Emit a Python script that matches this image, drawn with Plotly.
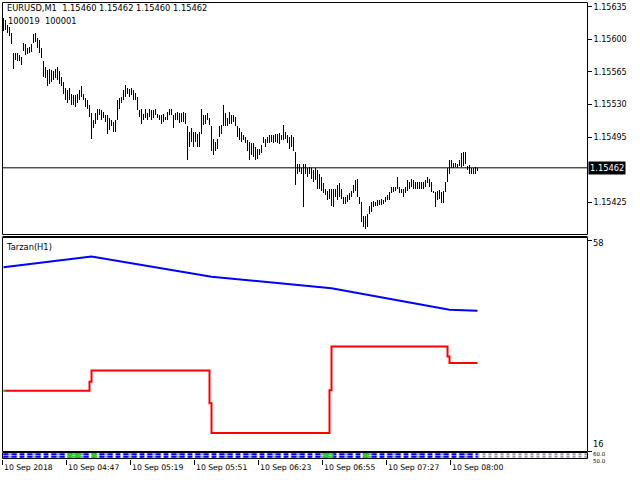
import plotly.graph_objects as go

# ---------------- data ----------------
symbol_title = "EURUSD,M1\u00a0\u00a01.15460 1.15462 1.15460 1.15462"
info_line = "100019\u00a0\u00a0100001"
indicator_name = "Tarzan(H1)"

time_labels = ["10 Sep 2018", "10 Sep 04:47", "10 Sep 05:19", "10 Sep 05:51",
               "10 Sep 06:23", "10 Sep 06:55", "10 Sep 07:27", "10 Sep 08:00"]

highs = [
    1.15623, 1.15621, 1.15616, 1.15614, 1.15607, 1.15586, 1.15586, 1.15586, 1.15584, 1.15581,
    1.15597, 1.15595, 1.15591, 1.15592, 1.15596, 1.15606, 1.15607, 1.15602, 1.15600, 1.15591,
    1.15577, 1.15571, 1.15568, 1.15569, 1.15568, 1.15566, 1.15569, 1.15571, 1.15566, 1.15560,
    1.15555, 1.15548, 1.15546, 1.15548, 1.15542, 1.15541, 1.15541, 1.15542, 1.15546, 1.15550,
    1.15542, 1.15537, 1.15535, 1.15530, 1.15521, 1.15514, 1.15521, 1.15526, 1.15526, 1.15525,
    1.15523, 1.15519, 1.15519, 1.15516, 1.15514, 1.15512, 1.15514, 1.15535, 1.15537, 1.15539,
    1.15546, 1.15551, 1.15548, 1.15547, 1.15548, 1.15546, 1.15543, 1.15539, 1.15525, 1.15526,
    1.15520, 1.15526, 1.15521, 1.15526, 1.15525, 1.15525, 1.15526, 1.15520, 1.15519, 1.15519,
    1.15520, 1.15517, 1.15522, 1.15526, 1.15526, 1.15519, 1.15521, 1.15522, 1.15521, 1.15521,
    1.15523, 1.15521, 1.15507, 1.15501, 1.15505, 1.15501, 1.15501, 1.15499, 1.15501, 1.15526,
    1.15519, 1.15519, 1.15521, 1.15516, 1.15507, 1.15494, 1.15490, 1.15494, 1.15507, 1.15508,
    1.15530, 1.15521, 1.15516, 1.15523, 1.15519, 1.15519, 1.15517, 1.15507, 1.15505, 1.15501,
    1.15498, 1.15496, 1.15492, 1.15490, 1.15489, 1.15489, 1.15485, 1.15483, 1.15483, 1.15487,
    1.15496, 1.15493, 1.15496, 1.15498, 1.15498, 1.15498, 1.15499, 1.15499, 1.15500, 1.15498,
    1.15508, 1.15501, 1.15498, 1.15496, 1.15498, 1.15496, 1.15480, 1.15467, 1.15467, 1.15462,
    1.15467, 1.15467, 1.15462, 1.15463, 1.15462, 1.15460, 1.15462, 1.15460, 1.15456, 1.15453,
    1.15446, 1.15440, 1.15438, 1.15440, 1.15440, 1.15440, 1.15440, 1.15444, 1.15446, 1.15440,
    1.15431, 1.15431, 1.15433, 1.15435, 1.15438, 1.15444, 1.15449, 1.15451, 1.15431, 1.15426,
    1.15411, 1.15411, 1.15413, 1.15422, 1.15426, 1.15427, 1.15426, 1.15428, 1.15428, 1.15429,
    1.15428, 1.15431, 1.15433, 1.15437, 1.15442, 1.15442, 1.15442, 1.15453, 1.15442, 1.15440,
    1.15440, 1.15442, 1.15449, 1.15447, 1.15451, 1.15449, 1.15447, 1.15447, 1.15447, 1.15447,
    1.15447, 1.15449, 1.15453, 1.15451, 1.15447, 1.15438, 1.15437, 1.15438, 1.15439, 1.15437,
    1.15438, 1.15447, 1.15462, 1.15471, 1.15471, 1.15468, 1.15468, 1.15467, 1.15471, 1.15478,
    1.15480, 1.15479, 1.15465, 1.15466, 1.15462, 1.15462, 1.15463, 1.15462,
]

lows = [
    1.15609, 1.15611, 1.15607, 1.15604, 1.15595, 1.15569, 1.15578, 1.15577, 1.15577, 1.15573,
    1.15588, 1.15584, 1.15585, 1.15586, 1.15587, 1.15597, 1.15598, 1.15591, 1.15586, 1.15580,
    1.15560, 1.15559, 1.15550, 1.15553, 1.15555, 1.15557, 1.15559, 1.15557, 1.15553, 1.15550,
    1.15542, 1.15535, 1.15532, 1.15535, 1.15530, 1.15530, 1.15528, 1.15532, 1.15535, 1.15539,
    1.15535, 1.15528, 1.15526, 1.15517, 1.15494, 1.15505, 1.15510, 1.15514, 1.15519, 1.15514,
    1.15516, 1.15512, 1.15499, 1.15503, 1.15507, 1.15501, 1.15501, 1.15514, 1.15526, 1.15532,
    1.15535, 1.15539, 1.15542, 1.15539, 1.15541, 1.15535, 1.15535, 1.15525, 1.15517, 1.15510,
    1.15514, 1.15516, 1.15514, 1.15517, 1.15514, 1.15516, 1.15519, 1.15516, 1.15514, 1.15510,
    1.15512, 1.15514, 1.15514, 1.15519, 1.15519, 1.15505, 1.15514, 1.15514, 1.15511, 1.15512,
    1.15512, 1.15510, 1.15471, 1.15485, 1.15490, 1.15485, 1.15490, 1.15485, 1.15485, 1.15499,
    1.15508, 1.15510, 1.15514, 1.15508, 1.15481, 1.15476, 1.15481, 1.15483, 1.15496, 1.15499,
    1.15507, 1.15507, 1.15507, 1.15510, 1.15510, 1.15512, 1.15507, 1.15496, 1.15492, 1.15490,
    1.15492, 1.15489, 1.15481, 1.15471, 1.15476, 1.15474, 1.15471, 1.15472, 1.15476, 1.15478,
    1.15489, 1.15485, 1.15489, 1.15489, 1.15490, 1.15489, 1.15490, 1.15489, 1.15488, 1.15492,
    1.15492, 1.15494, 1.15489, 1.15483, 1.15485, 1.15481, 1.15444, 1.15456, 1.15458, 1.15456,
    1.15420, 1.15456, 1.15453, 1.15456, 1.15451, 1.15447, 1.15449, 1.15440, 1.15440, 1.15438,
    1.15435, 1.15433, 1.15428, 1.15429, 1.15422, 1.15420, 1.15431, 1.15428, 1.15431, 1.15429,
    1.15424, 1.15424, 1.15426, 1.15428, 1.15431, 1.15435, 1.15438, 1.15431, 1.15424, 1.15404,
    1.15399, 1.15397, 1.15399, 1.15413, 1.15415, 1.15420, 1.15422, 1.15422, 1.15423, 1.15423,
    1.15424, 1.15426, 1.15428, 1.15428, 1.15435, 1.15437, 1.15438, 1.15440, 1.15435, 1.15435,
    1.15431, 1.15435, 1.15438, 1.15440, 1.15442, 1.15440, 1.15440, 1.15440, 1.15440, 1.15440,
    1.15440, 1.15442, 1.15446, 1.15442, 1.15437, 1.15435, 1.15420, 1.15428, 1.15429, 1.15425,
    1.15425, 1.15437, 1.15447, 1.15456, 1.15462, 1.15462, 1.15463, 1.15462, 1.15465, 1.15463,
    1.15465, 1.15467, 1.15460, 1.15456, 1.15456, 1.15456, 1.15456, 1.15460,
]

price_ticks = [1.15635, 1.15600, 1.15565, 1.15530, 1.15495, 1.15425]
last_price = 1.15462

ind_max, ind_min = 58, 16
blue_x = [0, 44, 104, 164, 223, 237]
blue_y = [52.6, 54.7, 50.7, 48.4, 44.1, 43.9]
red_x = [0, 43, 44, 103, 104, 163, 164, 222, 223, 237]
red_y = [28.0, 29.8, 32.0, 25.5, 19.6, 28.1, 36.8, 34.8, 33.5, 33.5]
green_start_x = [0, 1]

strip_green_ranges = [(32, 39), (44, 47), (160, 165), (180, 183)]
strip_labels = ["60.0", "50.0"]

# ---------------- layout helpers ----------------
W, H = 640, 480
def px(v):
    return v / W
def py(v):
    return 1 - v / H

FONT = "DejaVu Sans"
idx = list(range(len(highs)))

fig = go.Figure()

# price bars (high-low)
fig.add_trace(go.Bar(
    x=idx, y=[h - l for h, l in zip(highs, lows)], base=lows,
    width=0.4, marker=dict(color="black", line=dict(width=0)),
    xaxis="x", yaxis="y", hoverinfo="skip"))

# indicator lines
fig.add_trace(go.Scatter(x=blue_x, y=blue_y, mode="lines",
                         line=dict(color="#0000ff", width=2), xaxis="x", yaxis="y2"))
fig.add_trace(go.Scatter(x=red_x, y=red_y, mode="lines",
                         line=dict(color="#ff0000", width=2, shape="hv"), xaxis="x", yaxis="y2"))
fig.add_trace(go.Scatter(x=green_start_x, y=[red_y[0]] * 2, mode="lines",
                         line=dict(color="#33cc33", width=2), xaxis="x", yaxis="y2"))

# thin strip sub-window
n = len(highs)
for lvl in (72, 28):
    fig.add_trace(go.Scatter(x=[0, n - 1], y=[lvl, lvl], mode="lines",
                             line=dict(color="#0000ff", width=2, dash="5px,3px"),
                             xaxis="x", yaxis="y3"))
gx, gy = [], []
for a, b in strip_green_ranges:
    gx += [a, b, None]
    gy += [72, 72, None]
    gx += [a, b, None]
    gy += [28, 28, None]
fig.add_trace(go.Scatter(x=gx, y=gy, mode="lines", line=dict(color="#33cc33", width=2),
                         xaxis="x", yaxis="y3"))

shapes = []
# strip grey dashed background rows
for lvl in (72, 28):
    shapes.append(dict(type="line", xref="paper", yref="y3", x0=px(2.5), x1=px(587.5),
                       y0=lvl, y1=lvl, line=dict(color="#9a9aaa", width=2, dash="3px,3px"),
                       layer="below"))
# panel frames
for top, bot in ((2.5, 234.5), (237.5, 451.5), (452.5, 458.5)):
    shapes.append(dict(type="rect", xref="paper", yref="paper", x0=px(2.5), x1=px(587.5),
                       y0=py(bot), y1=py(top), line=dict(color="black", width=1)))
shapes.append(dict(type="line", xref="paper", yref="paper", x0=px(2.5), x1=px(587.5),
                   y0=py(236.5), y1=py(236.5), line=dict(color="black", width=1)))
# last price line
shapes.append(dict(type="line", xref="paper", yref="y", x0=px(2.5), x1=px(587.5),
                   y0=last_price, y1=last_price, line=dict(color="black", width=1)))

annotations = [
    dict(text=symbol_title, xref="paper", yref="paper", x=px(5), y=py(8),
         xanchor="left", yanchor="middle", showarrow=False, font=dict(size=8.3)),
    dict(text=info_line, xref="paper", yref="paper", x=px(6), y=py(21),
         xanchor="left", yanchor="middle", showarrow=False, font=dict(size=8.3)),
    dict(text=indicator_name, xref="paper", yref="paper", x=px(4), y=py(247),
         xanchor="left", yanchor="middle", showarrow=False, font=dict(size=8.3)),
    dict(text=f"{last_price:.5f}", xref="paper", yref="y", x=px(588), y=last_price,
         xanchor="left", yanchor="middle", showarrow=False, bgcolor="black",
         font=dict(size=8.3, color="white"), borderpad=1),
    dict(text=str(ind_max), xref="paper", yref="y2", x=px(591), y=ind_max,
         xanchor="left", yanchor="middle", showarrow=False, font=dict(size=8.3), yshift=-3),
    dict(text=str(ind_min), xref="paper", yref="y2", x=px(591), y=ind_min,
         xanchor="left", yanchor="middle", showarrow=False, font=dict(size=8.3), yshift=7),
    dict(text=strip_labels[0], xref="paper", yref="paper", x=px(591), y=py(454),
         xanchor="left", yanchor="middle", showarrow=False, font=dict(size=5.5)),
    dict(text=strip_labels[1], xref="paper", yref="paper", x=px(591), y=py(460.5),
         xanchor="left", yanchor="middle", showarrow=False, font=dict(size=5.5)),
]
tick_pos = [32 * k - 0.5 for k in range(len(time_labels))]
for pos, lab in zip(tick_pos, time_labels):
    annotations.append(dict(text=lab, xref="x", yref="paper", x=pos, y=py(467),
                            xanchor="left", yanchor="middle", showarrow=False,
                            font=dict(size=7.7), xshift=-1))

fig.update_layout(
    width=W, height=H, margin=dict(l=0, r=0, t=0, b=0, pad=0),
    paper_bgcolor="white", plot_bgcolor="white",
    font=dict(family=FONT, size=8.3, color="black"),
    showlegend=False, hovermode=False, bargap=0,
    xaxis=dict(domain=[px(2), px(587)], range=[-0.75, 291.75], anchor="y3",
               showgrid=False, zeroline=False, showline=False,
               tickmode="array", tickvals=tick_pos, showticklabels=False,
               ticks="outside", ticklen=5, tickcolor="black", tickwidth=1),
    yaxis=dict(domain=[py(234.5), py(2.5)], range=[1.153904, 1.156395], anchor="x",
               side="right", showgrid=False, zeroline=False, showline=False,
               tickmode="array", tickvals=price_ticks, tickformat=".5f",
               ticks="outside", ticklen=4, tickcolor="black", tickwidth=1,
               tickfont=dict(size=8)),
    yaxis2=dict(domain=[py(451.5), py(237.5)], range=[15.9, 58.5], anchor="x",
                side="right", showgrid=False, zeroline=False, showline=False,
                tickmode="array", tickvals=[ind_max, ind_min], showticklabels=False,
                ticks="outside", ticklen=4, tickcolor="black"),
    yaxis3=dict(domain=[py(458.5), py(452.5)], range=[0, 100], anchor="x",
                side="right", showgrid=False, zeroline=False, showline=False,
                showticklabels=False, ticks=""),
    shapes=shapes, annotations=annotations,
)

fig.write_html("out.html", config={"displayModeBar": False},
               post_script="document.body.style.margin='0';")
